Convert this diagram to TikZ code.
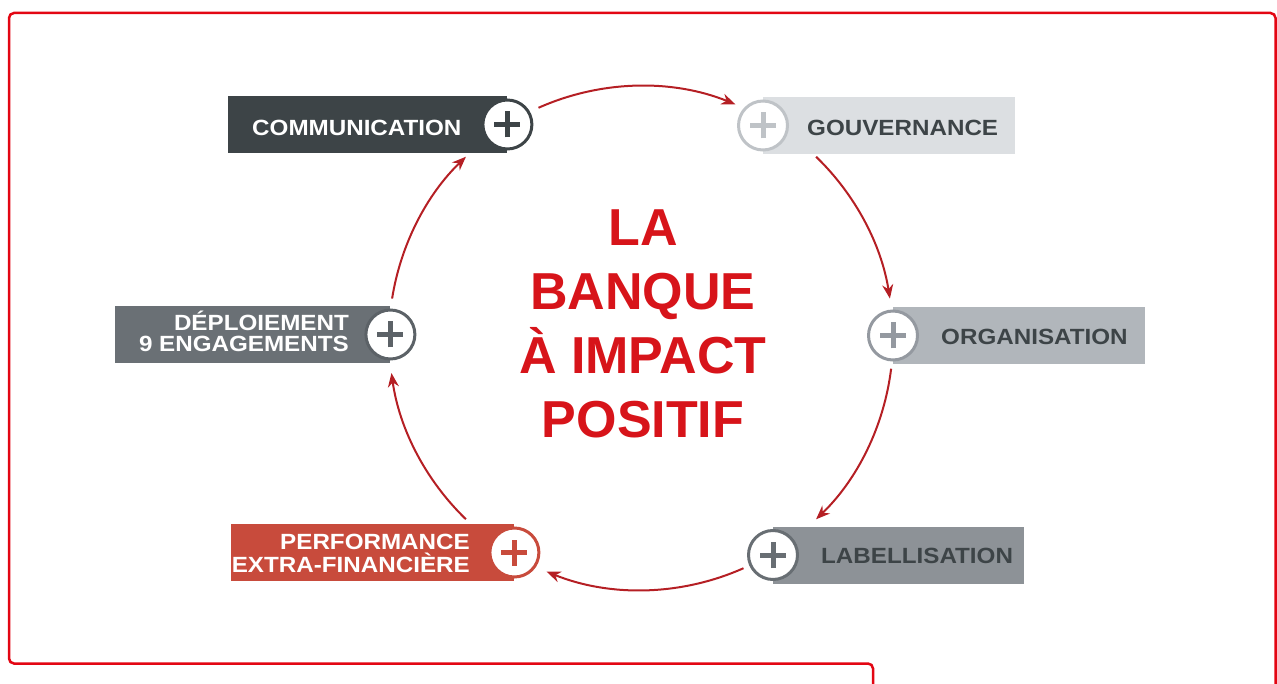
\documentclass[tikz,border=0pt]{standalone}
\usepackage{fontspec}
\setmainfont{Liberation Sans}
\newfontfamily\boxfont[FakeStretch=1.1]{Liberation Sans}
\usetikzlibrary{arrows.meta}
\definecolor{cadre}{HTML}{E30613}
\definecolor{fleche}{HTML}{B51F24}
\definecolor{rougetitre}{HTML}{D7141A}
\definecolor{ardoise}{HTML}{3D4447}
\definecolor{gris1}{HTML}{DCDFE2}
\definecolor{gris1b}{HTML}{BFC3C7}
\definecolor{gris2}{HTML}{B1B6BB}
\definecolor{gris2b}{HTML}{9499A0}
\definecolor{gris3}{HTML}{8D9297}
\definecolor{gris3b}{HTML}{686E73}
\definecolor{gris4}{HTML}{6A7075}
\definecolor{gris4b}{HTML}{5C6267}
\definecolor{brique}{HTML}{C84B3C}
\begin{document}
\begin{tikzpicture}[x=1pt,y=-1pt,>={Stealth[length=14pt,width=11pt]},
		font=\boxfont\bfseries\fontsize{22}{22}\selectfont]
		\tikzset{
			bandeau/.style={fill=#1,minimum height=57pt,inner sep=0pt,anchor=west},
			bouton/.style 2 args={circle,fill=white,draw=#1,line width=3pt,minimum size=49pt,inner sep=0pt,
				path picture={\draw[#2,line width=5pt]
					([xshift=-13pt]path picture bounding box.center) -- ([xshift=13pt]path picture bounding box.center)
					([yshift=-13pt]path picture bounding box.center) -- ([yshift=13pt]path picture bounding box.center);}},
			etiquette/.style={text=#1,inner sep=0pt},
			boucle/.style={->,draw=fleche,line width=2pt}
		}
		\useasboundingbox (0,0) rectangle (1277,684);
		%--------- Cadre
		\draw[cadre,line width=2.5pt,rounded corners=5pt] (873,690) -- (873,663.5) -- (9,663.5) -- (9,13) -- (1275.5,13) -- (1275.5,690);
		%--------- Bandeaux
		\node[bandeau=ardoise,minimum width=279pt] (comm) at (228,124.5) {};
		\node[bandeau=gris1,minimum width=252pt] (gouv) at (763,125.5) {};
		\node[bandeau=gris2,minimum width=252pt] (orga) at (893,335.5) {};
		\node[bandeau=gris3,minimum width=251pt] (label) at (773,555) {};
		\node[bandeau=brique,minimum width=283pt] (perf) at (231,552.5) {};
		\node[bandeau=gris4,minimum width=275pt] (deploi) at (115,334.5) {};
		%--------- Boutons
		\node[bouton={ardoise}{ardoise}] (comm-p) at (comm.east) {};
		\node[bouton={gris1b}{gris1b}] (gouv-p) at (gouv.west) {};
		\node[bouton={gris2b}{gris2b}] (orga-p) at (orga.west) {};
		\node[bouton={gris3b}{gris3b}] (label-p) at (label.west) {};
		\node[bouton={brique}{brique}] (perf-p) at (perf.east) {};
		\node[bouton={gris4b}{gris4b}] (deploi-p) at (deploi.east) {};
		%--------- Textes
		\node[etiquette=white,anchor=west] (comm-t) at (252,127.5) {COMMUNICATION};
		\node[etiquette=ardoise,anchor=west] (gouv-t) at (807,127.5) {GOUVERNANCE};
		\node[etiquette=ardoise,anchor=west] (orga-t) at (941,337) {ORGANISATION};
		\node[etiquette=ardoise,anchor=west] (label-t) at (821,556) {LABELLISATION};
		\node[etiquette=white,anchor=base east,align=right] (perf-t) at (470,572)
			{PERFORMANCE\\[0.5pt]EXTRA-FINANCIÈRE};
		\node[etiquette=white,anchor=base east,align=right] (deploi-t) at (349,352)
			{DÉPLOIEMENT\\[-1pt]9 ENGAGEMENTS};
		\node[etiquette=rougetitre,align=center,font=\bfseries\fontsize{52}{64}\selectfont] (titre) at (643,323.5)
			{LA\\BANQUE\\À IMPACT\\POSITIF};
		%--------- Cycle
		\coordinate (centre) at (641,338);
		\draw[boucle] (centre) ++(246:252) arc[start angle=246,end angle=292,radius=252];
		\draw[boucle] (centre) ++(314:252) arc[start angle=314,end angle=351,radius=252];
		\draw[boucle] (centre) ++(7:252) arc[start angle=7,end angle=46,radius=252];
		\draw[boucle] (centre) ++(66:252) arc[start angle=66,end angle=112,radius=252];
		\draw[boucle] (centre) ++(134:252) arc[start angle=134,end angle=172,radius=252];
		\draw[boucle] (centre) ++(189:252) arc[start angle=189,end angle=226,radius=252];
\end{tikzpicture}
\end{document}
